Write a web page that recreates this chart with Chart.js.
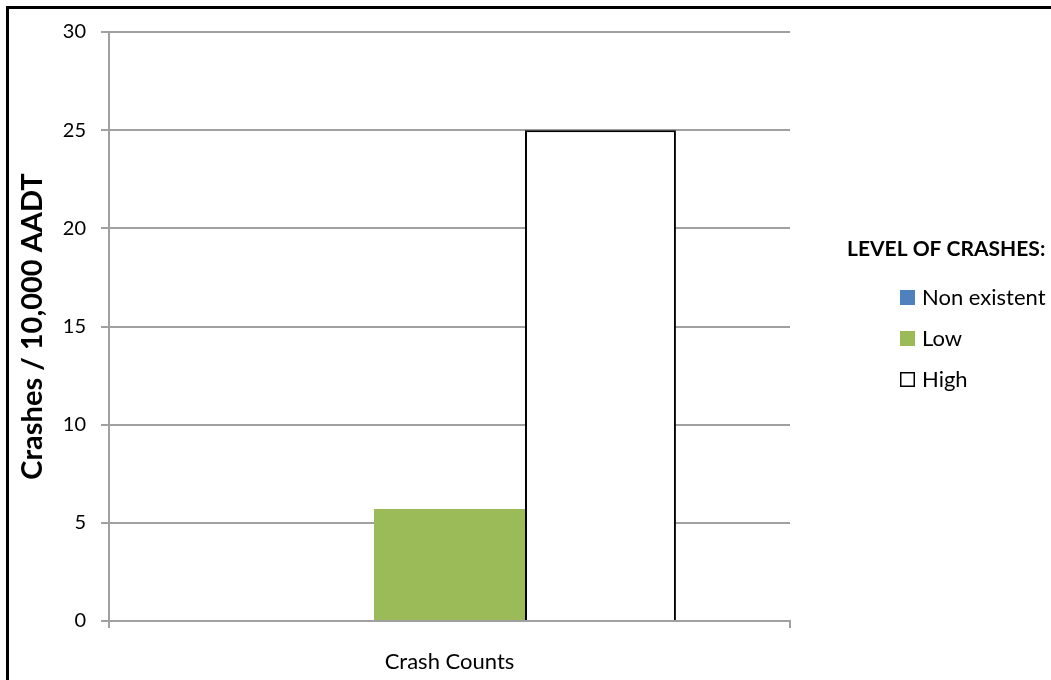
<!DOCTYPE html>
<html>
<head>
<meta charset="utf-8">
<script src="https://cdn.jsdelivr.net/npm/chart.js@4.4.0/dist/chart.umd.min.js"></script>
<style>
  html, body { margin: 0; padding: 0; background: #fff; overflow: hidden; }
  #wrap { position: relative; width: 1051px; height: 680px; }
  #frame { position: absolute; left: 6px; top: 6px; width: 1100px; height: 700px; border: 3px solid #000; pointer-events: none; }
</style>
</head>
<body>
<div id="wrap">
  <canvas id="chart" width="1051" height="680"></canvas>
  <div id="frame"></div>
</div>
<script>
const categories = ['Crash Counts'];
const seriesNames = ['Non existent', 'Low', 'High'];
const nonExistent = [0];
const low = [5.7];
const high = [25];
const yTicks = [0, 5, 10, 15, 20, 25, 30];

const FONT = 'Lato, "Noto Sans", sans-serif';
const gridGray = '#a0a0a0';

// legend on the right, drawn from the datasets
const sideLegend = {
  id: 'sideLegend',
  afterDraw(chart) {
    const ctx = chart.ctx;
    const x0 = chart.chartArea.right;
    ctx.save();
    ctx.fillStyle = '#000';
    ctx.textBaseline = 'middle';
    ctx.textAlign = 'left';
    ctx.font = 'bold 21px ' + FONT;
    ctx.fillText('LEVEL OF CRASHES:', x0 + 57, 249);
    ctx.font = '22px ' + FONT;
    chart.data.datasets.forEach((ds, i) => {
      const y = 297 + i * 41;
      const bx = x0 + 110;
      if (ds.borderWidth) {
        ctx.fillStyle = '#fff';
        ctx.fillRect(bx, y - 7, 15, 15);
        ctx.strokeStyle = '#000';
        ctx.lineWidth = 1.5;
        ctx.strokeRect(bx + 0.75, y - 6.25, 13.5, 13.5);
      } else {
        ctx.fillStyle = ds.backgroundColor;
        ctx.fillRect(bx, y - 7, 15, 15);
      }
      ctx.fillStyle = '#000';
      ctx.fillText(ds.label, bx + 22, y + 1);
    });
    ctx.restore();
  }
};

new Chart(document.getElementById('chart').getContext('2d'), {
  type: 'bar',
  data: {
    labels: categories,
    datasets: [
      { label: seriesNames[0], data: nonExistent, backgroundColor: '#4F81BD', borderWidth: 0 },
      { label: seriesNames[1], data: low, backgroundColor: '#9BBB59', borderWidth: 0 },
      { label: seriesNames[2], data: high, backgroundColor: '#ffffff', borderColor: '#000000', borderWidth: 2 }
    ]
  },
  options: {
    responsive: false,
    animation: false,
    devicePixelRatio: 1,
    categoryPercentage: 0.665,
    barPercentage: 1,
    layout: { padding: { left: 0, top: 32, right: 261, bottom: 0 } },
    plugins: {
      legend: { display: false },
      tooltip: { enabled: false }
    },
    scales: {
      x: {
        afterFit(s) { s.height = 59; },
        grid: { offset: true, drawOnChartArea: false, drawTicks: true, tickLength: 7, color: gridGray, lineWidth: 2 },
        border: { color: gridGray, width: 2 },
        ticks: { color: '#000', font: { family: FONT, size: 22 }, padding: 21 }
      },
      y: {
        min: 0,
        max: 30,
        afterFit(s) { s.width = 109; },
        afterBuildTicks(s) { s.ticks = yTicks.map(v => ({ value: v })); },
        grid: { color: gridGray, lineWidth: 2, tickLength: 8 },
        border: { color: gridGray, width: 2 },
        ticks: { color: '#000', font: { family: FONT, size: 20 }, padding: 15 },
        title: {
          display: true,
          text: 'Crashes / 10,000 AADT',
          color: '#000',
          font: { family: FONT, size: 29, weight: 'bold' },
          padding: { top: 15, bottom: 0 }
        }
      }
    }
  },
  plugins: [sideLegend]
});
</script>
</body>
</html>
